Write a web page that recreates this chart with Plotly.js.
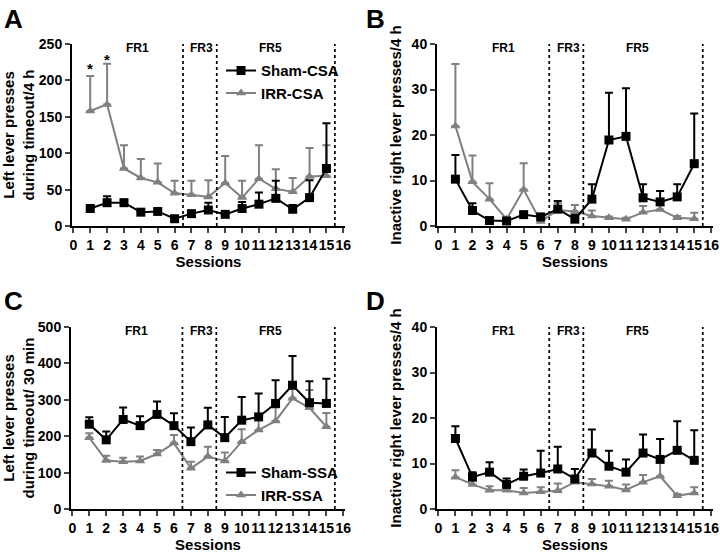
<!DOCTYPE html>
<html>
<head>
<meta charset="utf-8">
<script src="https://cdn.plot.ly/plotly-3.0.1.min.js"></script>
<style>
  body { margin: 0; background: #fff; }
  #chart { width: 720px; height: 553px; }
</style>
</head>
<body>
<div id="chart"></div>
<script>
// sessions 1..15
const sessions = [1, 2, 3, 4, 5, 6, 7, 8, 9, 10, 11, 12, 13, 14, 15];
const xTicks = [0, 1, 2, 3, 4, 5, 6, 7, 8, 9, 10, 11, 12, 13, 14, 15, 16];
const phaseBreaks = [6.5, 8.5, 15.5];
const phaseLabels = ["FR1", "FR3", "FR5"];
const phaseLabelX = [3.8, 7.6, 11.7];

// A: left lever presses during timeout / 4 h (CSA)
const shamCSA = [24, 32, 32, 19, 20, 10, 17, 22, 16, 24, 30, 38, 23, 39, 79];
const shamCSAErr = [5, 9, 4, 3, 3, 3, 3, 10, 2, 9, 16, 24, 6, 24, 62];
const irrCSA = [158, 167, 79, 66, 60, 45, 43, 40, 59, 39, 65, 51, 47, 68, 69];
const irrCSAErr = [48, 56, 32, 26, 26, 17, 19, 23, 37, 23, 46, 27, 19, 39, 42];

// B: inactive right lever presses / 4 h (CSA)
const shamB = [10.3, 3.4, 1.2, 1.1, 2.5, 2.0, 3.7, 1.5, 5.9, 18.9, 19.7, 6.2, 5.3, 6.4, 13.7];
const shamBErr = [5.3, 1.6, 0.5, 0.5, 0.5, 0.5, 1.8, 1.0, 3.3, 10.4, 10.6, 3.0, 2.4, 2.8, 11.0];
const irrB = [22, 9.7, 5.9, 1.5, 8.0, 1.0, 3.5, 3.2, 2.2, 1.8, 1.5, 3.0, 3.6, 1.8, 1.6];
const irrBErr = [13.6, 5.8, 3.5, 0.4, 5.8, 0.4, 1.5, 1.4, 1.2, 0.3, 0.3, 1.4, 1.0, 0.4, 1.3];

// C: left lever presses during timeout / 30 min (SSA)
const shamSSA = [233, 190, 246, 229, 260, 229, 185, 231, 196, 244, 253, 290, 340, 292, 290];
const shamSSAErr = [19, 23, 33, 26, 35, 34, 39, 47, 57, 64, 64, 64, 80, 59, 68];
const irrSSA = [196, 133, 130, 132, 151, 181, 112, 144, 132, 185, 217, 242, 304, 278, 226];
const irrSSAErr = [12, 13, 11, 12, 11, 22, 18, 27, 23, 34, 33, 37, 41, 49, 38];

// D: inactive right lever presses / 4 h (SSA)
const shamD = [15.5, 7.0, 8.1, 5.4, 7.2, 7.9, 8.8, 6.6, 12.3, 9.4, 8.1, 12.3, 10.9, 12.9, 10.7];
const shamDErr = [2.7, 1.1, 2.2, 1.3, 1.5, 4.9, 4.9, 2.2, 5.2, 3.4, 2.8, 4.1, 4.5, 6.4, 6.6];
const irrD = [7.0, 5.4, 4.1, 4.1, 3.5, 3.8, 4.0, 5.9, 5.5, 5.0, 4.2, 5.9, 7.2, 2.9, 3.5];
const irrDErr = [1.5, 1.1, 0.9, 0.9, 1.1, 1.0, 1.6, 1.3, 1.1, 1.2, 1.2, 1.6, 3.3, 0.4, 1.3];

const W = 720, H = 553;
const GRAY = "#808080";
const FONT = "Liberation Sans, Arial, sans-serif";

function zeros(n) { return new Array(n).fill(0); }

function trace(y, err, axisNum, name, isSham, legendId, showLegend) {
  const col = isSham ? "#000000" : GRAY;
  const suffix = axisNum === 1 ? "" : axisNum;
  return {
    x: sessions,
    y: y,
    xaxis: "x" + suffix,
    yaxis: "y" + suffix,
    name: name,
    type: "scatter",
    mode: "lines+markers",
    line: { color: col, width: 2 },
    marker: {
      color: col,
      symbol: isSham ? "square" : "triangle-up",
      size: 9
    },
    error_y: {
      type: "data",
      symmetric: false,
      array: err,
      arrayminus: zeros(err.length),
      color: col,
      thickness: 2,
      width: 4
    },
    legend: legendId,
    showlegend: showLegend,
    cliponaxis: false
  };
}

const data = [
  trace(irrCSA, irrCSAErr, 1, "IRR-CSA", false, "legend", true),
  trace(shamCSA, shamCSAErr, 1, "Sham-CSA", true, "legend", true),
  trace(irrB, irrBErr, 2, "IRR-CSA", false, "legend", false),
  trace(shamB, shamBErr, 2, "Sham-CSA", true, "legend", false),
  trace(irrSSA, irrSSAErr, 3, "IRR-SSA", false, "legend2", true),
  trace(shamSSA, shamSSAErr, 3, "Sham-SSA", true, "legend2", true),
  trace(irrD, irrDErr, 4, "IRR-SSA", false, "legend2", false),
  trace(shamD, shamDErr, 4, "Sham-SSA", true, "legend2", false)
];

// panel boxes in pixels: [left, right, top, bottom]
const boxes = [
  [72, 345, 44, 226],
  [437, 713, 44, 226],
  [71, 345, 327, 509],
  [437, 713, 327, 509]
];
const yRanges = [[0, 250], [0, 40], [0, 500], [0, 40]];
const yDtick = [50, 10, 100, 10];
const yTitles = [
  "Left lever presses<br>during timeout/4 h",
  "Inactive right lever presses/4 h",
  "Left lever presses<br>during timeout/ 30 min",
  "Inactive right lever presses/4 h"
];

const layout = {
  width: W,
  height: H,
  margin: { l: 0, r: 0, t: 0, b: 0 },
  paper_bgcolor: "#ffffff",
  plot_bgcolor: "#ffffff",
  font: { family: FONT, color: "#000", size: 14, weight: "bold" },
  showlegend: true,
  legend: {
    x: 0.307, y: 0.902, xanchor: "left", yanchor: "top",
    traceorder: "reversed",
    font: { size: 15, weight: "bold", family: FONT },
    bgcolor: "rgba(0,0,0,0)",
    itemwidth: 30,
    tracegroupgap: 0
  },
  legend2: {
    x: 0.307, y: 0.175, xanchor: "left", yanchor: "top",
    traceorder: "reversed",
    font: { size: 15, weight: "bold", family: FONT },
    bgcolor: "rgba(0,0,0,0)",
    itemwidth: 30,
    tracegroupgap: 0
  },
  shapes: [],
  annotations: []
};

boxes.forEach(function (b, i) {
  const suffix = i === 0 ? "" : (i + 1);
  const xa = {
    domain: [b[0] / W, b[1] / W],
    range: [-0.08, 16.1],
    anchor: "y" + suffix,
    tickvals: xTicks,
    tickangle: 0,
    ticks: "outside",
    ticklen: 5,
    tickwidth: 2,
    showline: true,
    linewidth: 2,
    linecolor: "#000",
    showgrid: false,
    zeroline: false,
    tickfont: { size: 14, weight: "bold", family: FONT },
    title: { text: "Sessions", font: { size: 15, weight: "bold", family: FONT }, standoff: 3 }
  };
  const ya = {
    domain: [1 - b[3] / H, 1 - b[2] / H],
    range: yRanges[i],
    anchor: "x" + suffix,
    dtick: yDtick[i],
    ticks: "outside",
    ticklen: 5,
    tickwidth: 2,
    showline: true,
    linewidth: 2,
    linecolor: "#000",
    showgrid: false,
    zeroline: false,
    tickfont: { size: 14, weight: "bold", family: FONT },
    title: { text: yTitles[i], font: { size: 15, weight: "bold", family: FONT }, standoff: 6 }
  };
  layout["xaxis" + suffix] = xa;
  layout["yaxis" + suffix] = ya;

  phaseBreaks.forEach(function (xb) {
    layout.shapes.push({
      type: "line",
      xref: "x" + suffix,
      yref: "y" + suffix + " domain",
      x0: xb, x1: xb, y0: 0, y1: 1,
      line: { color: "#000", width: 1.7, dash: "dot" }
    });
  });
  phaseLabels.forEach(function (lab, j) {
    layout.annotations.push({
      text: lab,
      xref: "x" + suffix,
      yref: "y" + suffix + " domain",
      x: phaseLabelX[j], y: 0.98,
      yanchor: "middle",
      showarrow: false,
      font: { size: 12, weight: "bold", family: FONT }
    });
  });
});

// panel letters
const panelLetters = ["A", "B", "C", "D"];
const letterPos = [[2, 2], [364, 2], [2, 284], [364, 284]];
panelLetters.forEach(function (L, i) {
  layout.annotations.push({
    text: L,
    xref: "paper", yref: "paper",
    x: letterPos[i][0] / W, y: 1 - letterPos[i][1] / H,
    xanchor: "left", yanchor: "top",
    showarrow: false,
    font: { size: 26, weight: "bold", family: FONT }
  });
});

// significance asterisks in panel A
const starX = [1, 2];
const starY = [216, 229];
starX.forEach(function (sx, i) {
  layout.annotations.push({
    text: "*",
    xref: "x", yref: "y",
    x: sx, y: starY[i],
    yanchor: "middle",
    showarrow: false,
    font: { size: 15, weight: "bold", family: FONT }
  });
});

Plotly.newPlot("chart", data, layout, { staticPlot: true });
</script>
</body>
</html>
